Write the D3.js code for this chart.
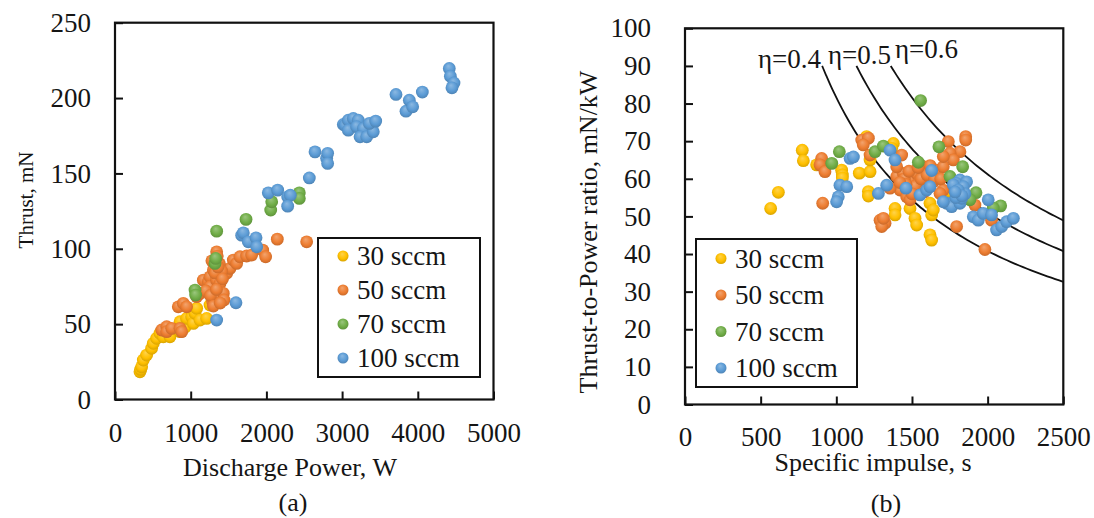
<!DOCTYPE html>
<html><head><meta charset="utf-8">
<script src="https://cdn.jsdelivr.net/npm/d3@7"></script>
<style>
body{margin:0;background:#fff}
svg{display:block}
text{font-family:"Liberation Serif","Times New Roman",serif;fill:#151515}
</style>
</head><body>
<svg id="c" width="1094" height="518"></svg>
<script>
// ---------- data ----------
const seriesNames = ["30 sccm", "50 sccm", "70 sccm", "100 sccm"];
const seriesColors = ["#FFC000", "#ED7D31", "#70AD47", "#5B9BD5"];

// (a) Thrust vs discharge power
const powerTicks = [0, 1000, 2000, 3000, 4000, 5000];
const thrustTicks = [0, 50, 100, 150, 200, 250];

const power30 = [330, 340, 352, 374, 418, 484, 506, 550, 594, 638, 726, 859, 859, 924, 946, 1013, 1035, 1057, 1079, 1123, 1211, 1255];
const thrust30 = [18.4, 20, 21.7, 26.2, 29.5, 34, 37.3, 40.6, 43.9, 41.6, 41.6, 45, 51.6, 47.9, 53.8, 54.9, 50.5, 57.2, 60.5, 52.7, 53.8, 62.7];

const power50 = [617, 683, 683, 749, 836, 859, 881, 902, 946, 1079, 1123, 1167, 1233, 1255, 1255, 1343, 1343, 1343, 1387, 1431, 1475, 1519, 1563, 1607, 1651, 1739, 1805, 1951, 1990, 2144, 2532, 1300, 1380, 1200, 1290, 1410, 1320, 1360, 1420, 1260, 1340, 1300, 1440, 1390, 1280, 1350];
const thrust50 = [46.1, 48.3, 45, 47.2, 61.5, 47.2, 45, 63.8, 61.5, 68.2, 70.4, 79.2, 78.1, 81.4, 74.8, 79.2, 68.2, 98, 77, 70.4, 83.7, 87, 92.5, 90.3, 94.7, 95.2, 95.8, 99.1, 94.7, 106.4, 104.6, 86, 90, 72, 65, 85, 84, 88, 80, 69, 73, 62, 66, 64, 92, 95];

const power70 = [1057, 1065, 1321, 1330, 1343, 1731, 2057, 2070, 2435, 2435];
const thrust70 = [72.6, 69.3, 90.3, 93.6, 111.7, 119.5, 125.7, 131.2, 137.1, 133.4];

const power100 = [1343, 1598, 1673, 1695, 1761, 1863, 1872, 2025, 2149, 2281, 2316, 2281, 2567, 2642, 2796, 2809, 2809, 3016, 3038, 3082, 3148, 3214, 3082, 3192, 3281, 3237, 3325, 3412, 3360, 3444, 3712, 3844, 3888, 3932, 4060, 4416, 4430, 4478, 4451];
const thrust100 = [52.7, 64.2, 109, 110.6, 104.6, 107.3, 101.3, 137.1, 138.9, 134.5, 135.5, 128.3, 147, 164.3, 160, 163.3, 156.6, 182.5, 182, 185.3, 186.5, 185.3, 178.7, 181, 179.8, 174.3, 174.3, 177.6, 183.2, 184.7, 202.4, 191.3, 198.6, 194.2, 204, 219.6, 214.5, 210, 206.8];

// (b) Thrust-to-power vs specific impulse
const ispTicks = [0, 500, 1000, 1500, 2000, 2500];
const tpTicks = [0, 10, 20, 30, 40, 50, 60, 70, 80, 90, 100];

const isp30 = [566, 617, 775, 782, 870, 1035, 1040, 1040, 1152, 1223, 1223, 1212, 1212, 1200, 1377, 1366, 1388, 1388, 1487, 1520, 1531, 1619, 1630, 1641, 1619, 1630, 1751];
const tp30 = [52.1, 56.4, 67.6, 64.8, 63.7, 62.3, 61, 60.2, 61.5, 61.9, 65, 56.6, 55.4, 71.2, 69.4, 68.1, 52.1, 50.4, 52.1, 49.5, 47.7, 53.5, 50.4, 51.7, 45.1, 43.7, 56.6];

const isp50 = [903, 892, 925, 910, 1168, 1212, 1178, 1223, 1289, 1322, 1300, 1311, 1432, 1399, 1443, 1487, 1531, 1575, 1619, 1663, 1707, 1509, 1421, 1465, 1487, 1355, 1597, 1641, 1707, 1685, 1399, 1553, 1740, 1817, 1751, 1773, 1707, 1855, 1855, 1795, 1916, 2026, 1982, 1450, 1480, 1520, 1560, 1600, 1650, 1690, 1540, 1460, 1500, 1420, 1620, 1580];
const tp50 = [65.4, 63.7, 61.9, 53.5, 70.3, 70.8, 69, 66.3, 49, 48.2, 47.3, 49.5, 66.3, 60.6, 61.4, 59.7, 61.4, 63.2, 62.8, 62.3, 63.2, 57.9, 57, 55.2, 54.4, 57.5, 57.9, 59.2, 57, 56.1, 63.2, 59.7, 69.9, 67.2, 66.8, 65, 65.9, 71.2, 70.3, 47.3, 53, 49, 41.2, 60, 62, 58, 60, 61, 60, 60, 63, 58.5, 56, 59, 63.5, 56.5];

const isp70 = [970, 1020, 1256, 1311, 1557, 1678, 1542, 1835, 1751, 1923, 1883, 2086, 2037];
const tp70 = [64.1, 67.2, 67.2, 68.7, 80.8, 68.5, 64.4, 63.2, 60.6, 56.3, 54.4, 52.8, 52.2];

const isp100 = [1091, 1113, 1024, 1069, 1013, 1002, 1278, 1333, 1355, 1388, 1630, 1460, 1553, 1597, 1619, 1817, 1795, 1861, 1839, 1773, 1729, 1762, 1817, 1828, 1707, 1905, 1938, 1971, 2004, 2026, 2059, 2093, 2126, 2170, 1790, 1850, 1805, 1830, 1785];
const tp100 = [65.4, 65.8, 58.3, 57.9, 55.2, 53.9, 56.1, 58.3, 67.6, 65, 62.2, 57.5, 55.7, 57, 57.9, 59.7, 58.8, 59.2, 57.9, 58.4, 53.5, 52.6, 53.5, 54.8, 53.9, 49.9, 49, 50.8, 54.4, 50.4, 46.4, 47.3, 48.6, 49.5, 55, 56, 57, 55.5, 56.5];

// efficiency iso-lines
const etaValues = [0.4, 0.5, 0.6];
const etaLabels = ["η=0.4", "η=0.5", "η=0.6"];
const etaTopTP = 90; // lines start at this thrust-to-power value (mN/kW)

// ---------- drawing ----------
const svg = d3.select("#c");
const defs = svg.append("defs");
seriesColors.forEach((c, i) => {
  const g = defs.append("radialGradient").attr("id", "g" + i)
    .attr("cx", "50%").attr("cy", "45%").attr("r", "55%").attr("fx", "42%").attr("fy", "30%");
  g.append("stop").attr("offset", "0%").attr("stop-color", d3.interpolateRgb(c, "#fff")(0.3));
  g.append("stop").attr("offset", "65%").attr("stop-color", c);
  g.append("stop").attr("offset", "100%").attr("stop-color", d3.color(c).darker(0.45));
});

function zip(a, b) { return a.map((v, i) => [v, b[i]]); }

function panel(cfg) {
  const x = d3.scaleLinear().domain(cfg.xDomain).range(cfg.xRange);
  const y = d3.scaleLinear().domain(cfg.yDomain).range(cfg.yRange);
  const g = svg.append("g");

  const ax = g.append("g").attr("transform", `translate(0,${cfg.yRange[0]})`)
    .call(d3.axisBottom(x).tickValues(cfg.xTicks).tickSize(-8).tickPadding(cfg.xPad).tickFormat(d3.format("d")));
  const ay = g.append("g").attr("transform", `translate(${cfg.xRange[0]},0)`)
    .call(d3.axisLeft(y).tickValues(cfg.yTicks).tickSize(-8).tickPadding(cfg.yPad).tickFormat(d3.format("d")));
  [ax, ay].forEach(a => {
    a.select(".domain").remove();
    a.selectAll("line").attr("stroke", "#111").attr("stroke-width", 2);
    a.selectAll("text").attr("font-size", 27).attr("font-family", "Liberation Serif").attr("fill", "#151515");
  });

  g.append("rect").attr("x", cfg.xRange[0]).attr("y", cfg.yRange[1])
    .attr("width", cfg.xRange[1] - cfg.xRange[0]).attr("height", cfg.yRange[0] - cfg.yRange[1])
    .attr("fill", "none").attr("stroke", "#111").attr("stroke-width", 2.2);

  if (cfg.extra) cfg.extra(g, x, y);

  cfg.series.forEach((s, i) => {
    g.append("g").selectAll("circle").data(zip(s[0], s[1])).join("circle")
      .attr("cx", d => x(d[0])).attr("cy", d => y(d[1])).attr("r", 6.4)
      .attr("fill", `url(#g${i})`);
  });

  const L = cfg.legend;
  const lg = g.append("g");
  lg.append("rect").attr("x", L.x).attr("y", L.y).attr("width", L.w).attr("height", L.h)
    .attr("fill", "#fff").attr("stroke", "#111").attr("stroke-width", 2);
  seriesNames.forEach((n, i) => {
    const yy = L.y + L.first + i * L.step;
    lg.append("circle").attr("cx", L.x + 25).attr("cy", yy).attr("r", 5.5).attr("fill", `url(#g${i})`);
    lg.append("text").attr("x", L.x + 39).attr("y", yy).attr("dy", "0.35em").attr("font-size", 27).text(n);
  });

  g.append("text").attr("x", cfg.xTitle.x).attr("y", cfg.xTitle.y).attr("text-anchor", "middle")
    .attr("font-size", 26).text(cfg.xTitle.t);
  g.append("text").attr("transform", `translate(${cfg.yTitle.x},${cfg.yTitle.y}) rotate(-90)`)
    .attr("text-anchor", "middle").attr("font-size", cfg.yTitle.fs).text(cfg.yTitle.t);
  g.append("text").attr("x", cfg.cap.x).attr("y", cfg.cap.y).attr("text-anchor", "middle")
    .attr("font-size", 26).text(cfg.cap.t);
}

panel({
  xDomain: [0, 5000], xRange: [115, 493.5],
  yDomain: [0, 250], yRange: [399.5, 22.7],
  xTicks: powerTicks, yTicks: thrustTicks, xPad: 23, yPad: 24,
  series: [[power30, thrust30], [power50, thrust50], [power70, thrust70], [power100, thrust100]],
  legend: { x: 318, y: 238, w: 162, h: 139, first: 18, step: 34 },
  xTitle: { x: 290, y: 476, t: "Discharge Power, W" },
  yTitle: { x: 33, y: 200, t: "Thrust, mN", fs: 21 },
  cap: { x: 293, y: 511, t: "(a)" }
});

panel({
  xDomain: [0, 2500], xRange: [685, 1063.3],
  yDomain: [0, 100], yRange: [404.5, 28.3],
  xTicks: ispTicks, yTicks: tpTicks, xPad: 22, yPad: 34,
  series: [[isp30, tp30], [isp50, tp50], [isp70, tp70], [isp100, tp100]],
  legend: { x: 696, y: 239, w: 161, h: 148, first: 19.5, step: 36.5 },
  xTitle: { x: 873, y: 471, t: "Specific impulse, s" },
  yTitle: { x: 597, y: 232, t: "Thrust-to-Power ratio, mN/kW", fs: 26 },
  cap: { x: 886, y: 512, t: "(b)" },
  extra: (g, x, y) => {
    const g0 = 9.80665;
    const line = d3.line().x(d => x(d[0])).y(d => y(d[1])).curve(d3.curveBasis);
    const labelPos = [[758, 68], [828, 64], [895, 58]];
    etaValues.forEach((eta, k) => {
      const tpOf = isp => 2 * eta / (g0 * isp) * 1e6;
      const ispStart = 2 * eta / (g0 * etaTopTP) * 1e6;
      const pts = d3.range(0, 61).map(j => {
        const isp = ispStart + (2500 - ispStart) * j / 60;
        return [isp, tpOf(isp)];
      });
      g.append("path").attr("d", line(pts)).attr("fill", "none")
        .attr("stroke", "#111").attr("stroke-width", 1.8);
      g.append("text").attr("x", labelPos[k][0]).attr("y", labelPos[k][1])
        .attr("font-size", 27).text(etaLabels[k]);
    });
  }
});
</script>
</body></html>
